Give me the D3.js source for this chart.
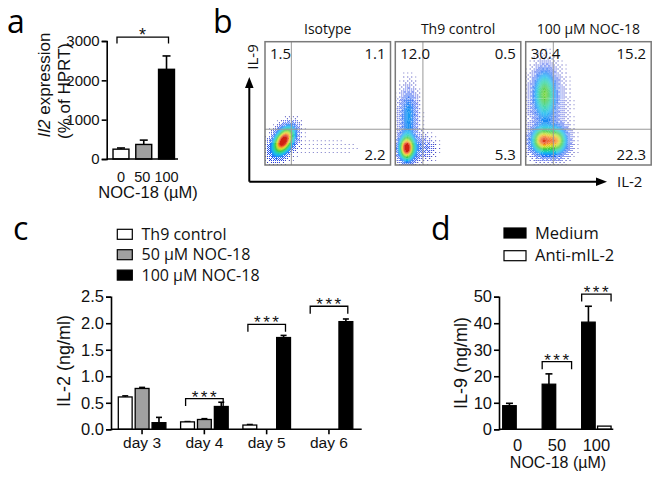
<!DOCTYPE html>
<html><head><meta charset="utf-8">
<script src="https://cdn.jsdelivr.net/npm/d3@7"></script>
<style>body{margin:0;background:#fff} svg{display:block}</style>
</head><body>
<svg id="fig" width="660" height="479"></svg>
<script>
// ---------- Panel a ----------
const aCategories = ["0", "50", "100"];
const aValues = [250, 370, 2280];
const aErrors = [30, 110, 340];
const aTicks = [0, 1000, 2000, 3000];
const aFills = ["#ffffff", "#a0a0a0", "#000000"];

// ---------- Panel b (flow cytometry) ----------
const flowTitles = ["Isotype", "Th9 control", "100 µM NOC-18"];
const flowUL = ["1.5", "12.0", "30.4"];
const flowUR = ["1.1", "0.5", "15.2"];
const flowLR = ["2.2", "5.3", "22.3"];
const flowGateX = [0.21, 0.22, 0.22];
const flowGateY = [0.29, 0.29, 0.29];
// population clusters: [cx, cy, sx, sy, angleDeg, weight]
const flowBlobs = [
  [[0.15, 0.20, 0.045, 0.08, -30, 1.0], [0.13, 0.17, 0.07, 0.10, -30, 0.14], [0.5, 0.14, 0.25, 0.07, 0, 0.025]],
  [[0.09, 0.135, 0.04, 0.065, 0, 1.0], [0.105, 0.40, 0.05, 0.15, 0, 0.3], [0.20, 0.14, 0.08, 0.07, 0, 0.16]],
  [[0.15, 0.58, 0.055, 0.12, 0, 0.5], [0.17, 0.50, 0.10, 0.20, 0, 0.16], [0.13, 0.20, 0.055, 0.065, 0, 0.72],
   [0.25, 0.20, 0.05, 0.065, 0, 0.58], [0.20, 0.17, 0.10, 0.09, 0, 0.2]]
];
const flowColorStops = [0, 0.04, 0.1, 0.22, 0.35, 0.48, 0.6, 0.72, 0.82, 0.92, 1];
const flowColors = ["#b0b0d8", "#2a2ab0", "#1f3ce8", "#2070f8", "#10b8f0", "#20d0a0", "#40c840", "#b0e030", "#f0c020", "#f06020", "#d02010"];

// ---------- Panel c ----------
const cDays = ["day 3", "day 4", "day 5", "day 6"];
const cSeries = ["Th9 control", "50 µM NOC-18", "100 µM NOC-18"];
const cTh9 = [0.61, 0.14, 0.08, 0];
const cTh9Err = [0.02, 0.005, 0.01, 0];
const c50 = [0.77, 0.185, 0, 0];
const c50Err = [0.02, 0.015, 0, 0];
const c100 = [0.125, 0.43, 1.73, 2.03];
const c100Err = [0.1, 0.08, 0.04, 0.05];
const cTicks = [0.0, 0.5, 1.0, 1.5, 2.0, 2.5];
const cFills = ["#ffffff", "#a0a0a0", "#000000"];
const cSig = [["day 4", 0.58], ["day 5", 1.98], ["day 6", 2.32]];

// ---------- Panel d ----------
const dDoses = ["0", "50", "100"];
const dSeries = ["Medium", "Anti-mIL-2"];
const dMedium = [8.9, 17.0, 40.4];
const dMediumErr = [0.9, 3.9, 6.0];
const dAnti = [0, 0, 1.2];
const dAntiErr = [0, 0, 0];
const dTicks = [0, 10, 20, 30, 40, 50];
const dFills = ["#000000", "#ffffff"];
const dSig = [["50", 25.5], ["100", 51.0]];

const svg = d3.select("#fig");
const ARIAL = "Liberation Sans, Arial, sans-serif";
const CAL = "Open Sans, sans-serif";

function letter(t, x, y) {
  svg.append("text").attr("x", x).attr("y", y).text(t)
    .attr("font-family", CAL).attr("font-size", 32).attr("fill", "#000");
}

function yAxis(g, scale, ticks, fmt, fs) {
  const ax = d3.axisLeft(scale).tickValues(ticks).tickFormat(fmt).tickSize(5).tickPadding(2);
  g.call(ax);
  g.select(".domain").attr("stroke-width", 1.6);
  g.selectAll(".tick line").attr("stroke-width", 1.6);
  g.selectAll("text").attr("font-family", ARIAL).attr("font-size", fs).attr("fill", "#111");
}

function errBar(g, x, yTop, yErr, cap) {
  g.append("line").attr("x1", x).attr("x2", x).attr("y1", yTop).attr("y2", yErr)
    .attr("stroke", "#000").attr("stroke-width", 1.6);
  g.append("line").attr("x1", x - cap / 2).attr("x2", x + cap / 2).attr("y1", yErr).attr("y2", yErr)
    .attr("stroke", "#000").attr("stroke-width", 1.6);
}

function bracket(g, x1, x2, y, drop, label, fs) {
  g.append("path").attr("d", `M${x1},${y + drop}V${y}H${x2}V${y + drop}`)
    .attr("fill", "none").attr("stroke", "#000").attr("stroke-width", 1.3);
  g.append("text").attr("x", (x1 + x2) / 2 + 1).attr("y", y + 4).attr("text-anchor", "middle")
    .attr("font-family", ARIAL).attr("font-size", fs).attr("fill", "#111")
    .attr("letter-spacing", 2.5).text(label);
}

// ================= Panel a =================
letter("a", 7, 33);
{
  const g = svg.append("g");
  const y = d3.scaleLinear().domain([0, 3000]).range([159, 41]);
  const x = d3.scaleBand().domain(aCategories).range([109.6, 177.9]).paddingInner(0.3).paddingOuter(0.15);
  aCategories.forEach((c, i) => {
    errBar(g, x(c) + x.bandwidth() / 2, y(aValues[i]), y(aValues[i] + aErrors[i]), 8);
    g.append("rect").attr("x", x(c)).attr("y", y(aValues[i])).attr("width", x.bandwidth())
      .attr("height", y(0) - y(aValues[i])).attr("fill", aFills[i]).attr("stroke", "#000").attr("stroke-width", 1.4);
  });
  const ya = g.append("g").attr("transform", "translate(106.7,0)");
  yAxis(ya, y, aTicks, d3.format("d"), 15);
  g.append("line").attr("x1", 106.7).attr("x2", 178).attr("y1", 159).attr("y2", 159).attr("stroke", "#000").attr("stroke-width", 1.6);
  aCategories.forEach(c => {
    g.append("text").attr("x", x(c) + x.bandwidth() / 2 - (c === "50" ? 1.5 : 0)).attr("y", 181.5).attr("text-anchor", "middle")
      .attr("font-family", ARIAL).attr("font-size", 14.5).attr("fill", "#111").text(c);
  });
  g.append("text").attr("x", 148).attr("y", 198).attr("text-anchor", "middle")
    .attr("font-family", ARIAL).attr("font-size", 16.5).attr("fill", "#111").text("NOC-18 (µM)");
  const l1 = g.append("text").attr("transform", "translate(50,85) rotate(-90)").attr("text-anchor", "middle")
    .attr("font-family", ARIAL).attr("font-size", 17).attr("fill", "#111");
  l1.append("tspan").attr("font-style", "italic").text("Il2");
  l1.append("tspan").text(" expression");
  g.append("text").attr("transform", "translate(70,91) rotate(-90)").attr("text-anchor", "middle")
    .attr("font-family", ARIAL).attr("font-size", 17).attr("fill", "#111").text("(% of HPRT)");
  const xs = x("0") + x.bandwidth() / 2 - 4, xe = x("100") + x.bandwidth() / 2 + 2;
  bracket(g, xs, xe, y(3100), 6.5, "*", 18);
}

// ================= Panel b =================
letter("b", 213, 33);
{
  const g = svg.append("g");
  const boxX = [265, 395.3, 525.7], boxW = 125.5, boxTop = 41.7, boxH = 123.3;
  const nx = 126, ny = 124;
  const bayer = [[0, 8, 2, 10], [12, 4, 14, 6], [3, 11, 1, 9], [15, 7, 13, 5]];
  const color = d3.scaleLinear().domain(flowColorStops).range(flowColors).clamp(true);
  flowTitles.forEach((t, p) => {
    const xs = d3.scaleLinear().domain([0, 1]).range([boxX[p], boxX[p] + boxW]);
    const ys = d3.scaleLinear().domain([0, 1]).range([boxTop + boxH, boxTop]);
    const cw = boxW / nx, ch = boxH / ny;
    const buckets = new Map();
    for (let j = 0; j < ny; j++) for (let i = 0; i < nx; i++) {
      const px = (i + 0.5) / nx, py = (j + 0.5) / ny;
      let v = 0;
      flowBlobs[p].forEach(b => {
        const a = b[4] * Math.PI / 180, dx = px - b[0], dy = py - b[1];
        const u = dx * Math.cos(a) + dy * Math.sin(a), w = -dx * Math.sin(a) + dy * Math.cos(a);
        v += b[5] * Math.exp(-0.5 * (u * u / (b[2] * b[2]) + w * w / (b[3] * b[3])));
      });
      const cover = Math.pow(Math.min(1, v / 0.28), 1.2);
      if (cover <= (bayer[j % 4][i % 4] + 0.5) / 16) continue;
      const key = Math.round(Math.min(v, 1) * 60);
      const sx = xs(i / nx), sy = ys((j + 1) / ny);
      const s = `M${sx.toFixed(2)},${sy.toFixed(2)}h${cw.toFixed(2)}v${ch.toFixed(2)}h${(-cw).toFixed(2)}Z`;
      buckets.set(key, (buckets.get(key) || "") + s);
    }
    const cg = g.append("g");
    [...buckets.keys()].sort((a, b) => a - b).forEach(k => {
      cg.append("path").attr("d", buckets.get(k)).attr("fill", color(k / 60));
    });
    g.append("line").attr("x1", xs(flowGateX[p])).attr("x2", xs(flowGateX[p])).attr("y1", ys(0)).attr("y2", ys(1))
      .attr("stroke", "#999").attr("stroke-width", 1);
    g.append("line").attr("x1", xs(0)).attr("x2", xs(1)).attr("y1", ys(flowGateY[p])).attr("y2", ys(flowGateY[p]))
      .attr("stroke", "#999").attr("stroke-width", 1);
    g.append("rect").attr("x", boxX[p]).attr("y", boxTop).attr("width", boxW).attr("height", boxH)
      .attr("fill", "none").attr("stroke", "#7a7a7a").attr("stroke-width", 1.5);
    g.append("text").attr("x", boxX[p] + boxW / 2).attr("y", 34).attr("text-anchor", "middle")
      .attr("font-family", CAL).attr("font-size", 14).attr("fill", "#111").text(t);
    g.append("text").attr("x", boxX[p] + 5).attr("y", 59).attr("font-family", CAL).attr("font-size", 15).attr("fill", "#111").text(flowUL[p]);
    g.append("text").attr("x", boxX[p] + boxW - 5).attr("y", 59).attr("text-anchor", "end").attr("font-family", CAL).attr("font-size", 15).attr("fill", "#111").text(flowUR[p]);
    g.append("text").attr("x", boxX[p] + boxW - 5).attr("y", 160).attr("text-anchor", "end").attr("font-family", CAL).attr("font-size", 15).attr("fill", "#111").text(flowLR[p]);
  });
  g.append("path").attr("d", "M249.3,181.7V84").attr("stroke", "#000").attr("stroke-width", 2).attr("fill", "none");
  g.append("path").attr("d", "M249.3,181.7H598").attr("stroke", "#000").attr("stroke-width", 2).attr("fill", "none");
  g.append("path").attr("d", "M249.3,77L245,88H253.6Z").attr("fill", "#000");
  g.append("path").attr("d", "M607,181.7L596,177.4V186Z").attr("fill", "#000");
  g.append("text").attr("transform", "translate(258,57) rotate(-90)").attr("text-anchor", "middle")
    .attr("font-family", CAL).attr("font-size", 15).attr("fill", "#111").text("IL-9");
  g.append("text").attr("x", 617).attr("y", 187).attr("font-family", CAL).attr("font-size", 15).attr("fill", "#111").text("IL-2");
}

// ================= Panel c =================
letter("c", 13, 240);
{
  const g = svg.append("g");
  const y = d3.scaleLinear().domain([0, 2.5]).range([429.3, 296.7]);
  const x0 = d3.scaleBand().domain(cDays).range([110.9, 360.1]);
  const x1 = d3.scaleBand().domain(cSeries).range([7.4, 55]).paddingInner(0.18);
  const vals = [cTh9, c50, c100], errs = [cTh9Err, c50Err, c100Err];
  cDays.forEach((d, i) => {
    cSeries.forEach((s, k) => {
      const v = vals[k][i];
      if (v <= 0) return;
      const bx = x0(d) + x1(s);
      if (errs[k][i] > 0) errBar(g, bx + x1.bandwidth() / 2, y(v), y(v + errs[k][i]), 6);
      g.append("rect").attr("x", bx).attr("y", y(v)).attr("width", x1.bandwidth()).attr("height", y(0) - y(v))
        .attr("fill", cFills[k]).attr("stroke", "#000").attr("stroke-width", 1.3);
    });
  });
  const ya = g.append("g").attr("transform", "translate(111,0)");
  yAxis(ya, y, cTicks, d3.format(".1f"), 16.5);
  const xa = g.append("g").attr("transform", "translate(0,429.3)");
  xa.call(d3.axisBottom(x0).tickSize(5).tickSizeOuter(0).tickPadding(3));
  xa.select(".domain").attr("d", "M111,0H361.7").attr("stroke-width", 1.6);
  xa.selectAll(".tick line").attr("stroke-width", 1.6);
  xa.selectAll("text").attr("font-family", ARIAL).attr("font-size", 15.5).attr("fill", "#111");
  g.append("text").attr("transform", "translate(70,361) rotate(-90)").attr("text-anchor", "middle")
    .attr("font-family", ARIAL).attr("font-size", 18).attr("fill", "#111").text("IL-2 (ng/ml)");
  cSig.forEach(([d, h]) => {
    const xa1 = x0(d) + x1(cSeries[0]) + 5, xa2 = x0(d) + x1(cSeries[2]) + x1.bandwidth() - 5;
    bracket(g, xa1, xa2, y(h), 7.5, "***", 17);
  });
  cSeries.forEach((s, k) => {
    const ly = 229.3 + k * 20.4;
    g.append("rect").attr("x", 117.3).attr("y", ly).attr("width", 15).attr("height", 10)
      .attr("fill", cFills[k]).attr("stroke", "#000").attr("stroke-width", 1.2);
    g.append("text").attr("x", 141.5).attr("y", ly + 10.5).attr("font-family", CAL).attr("font-size", 16).attr("fill", "#111").text(s);
  });
}

// ================= Panel d =================
letter("d", 431, 240);
{
  const g = svg.append("g");
  const y = d3.scaleLinear().domain([0, 50]).range([429.3, 296.7]);
  const x0 = d3.scaleBand().domain(dDoses).range([497.75, 616.2]);
  const x1 = d3.scaleBand().domain(dSeries).range([4.95, 34.35]).paddingInner(0.15);
  const vals = [dMedium, dAnti], errs = [dMediumErr, dAntiErr];
  dDoses.forEach((d, i) => {
    dSeries.forEach((s, k) => {
      const v = vals[k][i];
      if (v <= 0) return;
      const bx = x0(d) + x1(s);
      if (errs[k][i] > 0) errBar(g, bx + x1.bandwidth() / 2, y(v), y(v + errs[k][i]), 7);
      g.append("rect").attr("x", bx).attr("y", y(v)).attr("width", x1.bandwidth()).attr("height", y(0) - y(v))
        .attr("fill", dFills[k]).attr("stroke", "#000").attr("stroke-width", 1.3);
    });
  });
  const ya = g.append("g").attr("transform", "translate(499,0)");
  yAxis(ya, y, dTicks, d3.format("d"), 16.5);
  g.append("line").attr("x1", 499).attr("x2", 613.3).attr("y1", 429.3).attr("y2", 429.3).attr("stroke", "#000").attr("stroke-width", 1.6);
  dDoses.forEach(d => {
    g.append("text").attr("x", x0(d) + x0.bandwidth() / 2).attr("y", 451).attr("text-anchor", "middle")
      .attr("font-family", ARIAL).attr("font-size", 16.5).attr("fill", "#111").text(d);
  });
  g.append("text").attr("x", 558).attr("y", 468).attr("text-anchor", "middle")
    .attr("font-family", ARIAL).attr("font-size", 16).attr("fill", "#111").text("NOC-18 (µM)");
  g.append("text").attr("transform", "translate(467,363) rotate(-90)").attr("text-anchor", "middle")
    .attr("font-family", ARIAL).attr("font-size", 18).attr("fill", "#111").text("IL-9 (ng/ml)");
  dSig.forEach(([d, h]) => {
    const xa1 = x0(d) + x1(dSeries[0]), xa2 = x0(d) + x1(dSeries[1]) + x1.bandwidth();
    bracket(g, xa1, xa2, y(h), 7.5, "***", 17);
  });
  dSeries.forEach((s, k) => {
    const ly = 228 + k * 22.7;
    g.append("rect").attr("x", 504).attr("y", ly).attr("width", 22).attr("height", 10)
      .attr("fill", dFills[k]).attr("stroke", "#000").attr("stroke-width", 1.2);
    g.append("text").attr("x", 535).attr("y", ly + 10.5).attr("font-family", CAL).attr("font-size", 16.5).attr("fill", "#111").text(s);
  });
}
</script>
</body></html>
